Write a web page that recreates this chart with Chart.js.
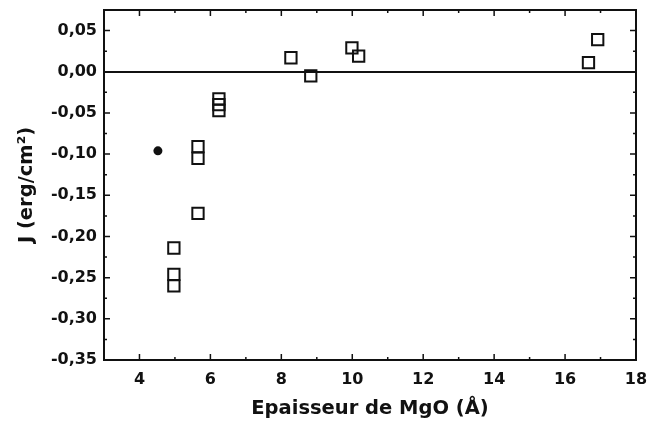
<!DOCTYPE html>
<html>
<head>
<meta charset="utf-8">
<script src="https://cdn.jsdelivr.net/npm/chart.js@4"></script>
<style>
  html, body { margin: 0; padding: 0; background: #fff; }
  #wrap { width: 647px; height: 425px; }
</style>
</head>
<body>
<div id="wrap"><canvas id="jChart"></canvas></div>
<script>
// Coupling J vs MgO thickness
const squareX = [4.97, 4.97, 4.97, 5.65, 5.65, 5.65, 6.24, 6.24, 6.24, 8.27, 8.83, 9.99, 10.18, 16.66, 16.92];
const squareY = [-0.214, -0.246, -0.260, -0.091, -0.105, -0.172, -0.033, -0.040, -0.047, 0.017, -0.005, 0.029, 0.019, 0.011, 0.039];
const dotX = [4.52];
const dotY = [-0.096];

const xTicks = [4, 6, 8, 10, 12, 14, 16, 18];
const yTicks = [-0.35, -0.30, -0.25, -0.20, -0.15, -0.10, -0.05, 0.00, 0.05];

const tickFont = { family: 'DejaVu Sans', size: 16, weight: 'bold' };

// frame + inward major/minor ticks on all four sides
const frameTicks = {
  id: 'frameTicks',
  afterDraw(chart) {
    const { ctx, chartArea: a, scales: { x, y } } = chart;
    ctx.save();
    ctx.strokeStyle = '#111';
    ctx.lineWidth = 2;
    ctx.strokeRect(a.left, a.top, a.right - a.left, a.bottom - a.top);
    ctx.lineWidth = 1.5;
    ctx.beginPath();
    for (let v = 3; v <= 18; v += 1) {
      const px = x.getPixelForValue(v);
      const len = v % 2 === 0 ? 6 : 3;
      ctx.moveTo(px, a.bottom); ctx.lineTo(px, a.bottom - len);
      ctx.moveTo(px, a.top); ctx.lineTo(px, a.top + len);
    }
    for (let i = 0; i <= 16; i++) {
      const v = -0.35 + i * 0.025;
      const py = y.getPixelForValue(v);
      const len = i % 2 === 0 ? 6 : 3;
      ctx.moveTo(a.left, py); ctx.lineTo(a.left + len, py);
      ctx.moveTo(a.right, py); ctx.lineTo(a.right - len, py);
    }
    ctx.stroke();
    ctx.restore();
  }
};

document.addEventListener('DOMContentLoaded', () => {
  initChart();
});

function initChart() {
  const ctx = document.getElementById('jChart').getContext('2d');
  new Chart(ctx, {
    type: 'scatter',
    data: {
      datasets: [
        {
          label: 'squares',
          data: squareX.map((v, i) => ({ x: v, y: squareY[i] })),
          pointStyle: 'rect',
          pointRadius: 8,
          pointBorderWidth: 2,
          pointBorderColor: '#111',
          pointBackgroundColor: 'rgba(255,255,255,0)'
        },
        {
          label: 'dot',
          data: dotX.map((v, i) => ({ x: v, y: dotY[i] })),
          pointStyle: 'circle',
          pointRadius: 4.5,
          pointBorderWidth: 0,
          pointBackgroundColor: '#111'
        }
      ]
    },
    options: {
      responsive: true,
      maintainAspectRatio: false,
      animation: false,
      layout: { padding: { top: 9, right: 11, left: 0, bottom: 0 } },
      plugins: {
        legend: { display: false },
        tooltip: { enabled: false }
      },
      scales: {
        x: {
          type: 'linear',
          min: 3,
          max: 18,
          afterBuildTicks: (s) => { s.ticks = xTicks.map(v => ({ value: v })); },
          afterFit: (s) => { s.height = 65; s.paddingLeft = 0; s.paddingRight = 0; },
          grid: { display: false, drawTicks: false },
          border: { display: false },
          ticks: { color: '#111', font: tickFont, padding: 10, maxRotation: 0 },
          title: {
            display: true,
            text: 'Epaisseur de MgO (Å)',
            color: '#111',
            font: { family: 'DejaVu Sans', size: 19.5, weight: 'bold' },
            padding: { top: 0, bottom: 4 }
          }
        },
        y: {
          min: -0.35,
          max: 0.075,
          afterBuildTicks: (s) => { s.ticks = yTicks.map(v => ({ value: v })); },
          afterFit: (s) => { s.width = 104; s.paddingTop = 0; s.paddingBottom = 0; },
          grid: {
            drawTicks: false,
            lineWidth: 2,
            color: (c) => (c.tick && Math.abs(c.tick.value) < 1e-9 ? '#111' : 'rgba(0,0,0,0)')
          },
          border: { display: false },
          ticks: {
            color: '#111',
            font: tickFont,
            padding: 7,
            callback: (v) => v.toFixed(2).replace('.', ',')
          },
          title: {
            display: true,
            text: 'J (erg/cm²)',
            color: '#111',
            font: { family: 'DejaVu Sans', size: 19.5, weight: 'bold' },
            padding: { top: 15, bottom: 0 }
          }
        }
      }
    },
    plugins: [frameTicks]
  });
}
</script>
</body>
</html>
